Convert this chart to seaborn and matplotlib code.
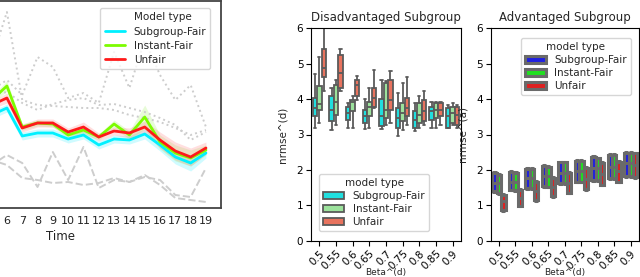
import numpy as np
import pandas as pd
import matplotlib
matplotlib.use("Agg")
import matplotlib.pyplot as plt
from matplotlib.lines import Line2D
import seaborn as sns

sns.set_theme(style="white")
plt.rcParams['font.family'] = ['DejaVu Sans']

# ---------------- left panel data (visible part of a time series chart) ----------------
time = list(range(5, 20))
subgroup_fair = [0.93, 1.00, 0.72, 0.75, 0.75, 0.69, 0.73, 0.63, 0.69, 0.68, 0.74, 0.63, 0.51, 0.45, 0.55]
instant_fair = [1.08, 1.22, 0.81, 0.85, 0.84, 0.73, 0.78, 0.71, 0.84, 0.73, 0.91, 0.66, 0.55, 0.50, 0.58]
unfair = [1.03, 1.10, 0.80, 0.85, 0.85, 0.76, 0.81, 0.71, 0.77, 0.75, 0.81, 0.68, 0.57, 0.51, 0.60]
subgroup_fair_ci = [0.04, 0.04, 0.04, 0.04, 0.04, 0.04, 0.04, 0.04, 0.04, 0.04, 0.05, 0.06, 0.07, 0.08, 0.05]
instant_fair_ci = [0.04, 0.05, 0.03, 0.03, 0.03, 0.03, 0.04, 0.03, 0.04, 0.04, 0.12, 0.07, 0.08, 0.08, 0.05]
unfair_ci = [0.04, 0.05, 0.04, 0.04, 0.04, 0.04, 0.05, 0.04, 0.04, 0.05, 0.06, 0.08, 0.09, 0.09, 0.06]
dotted_a = [1.48, 1.96, 1.08, 1.03, 1.02, 1.01, 1.00, 1.00, 0.98, 0.93, 0.90, 0.86, 0.80, 0.73, 0.78]
dotted_b = [1.18, 1.28, 1.13, 1.51, 1.41, 1.10, 1.15, 1.05, 1.56, 1.20, 1.68, 1.33, 1.08, 1.23, 0.81]
dotted_c = [1.13, 1.16, 1.05, 0.98, 1.04, 1.08, 1.10, 1.03, 1.04, 1.00, 0.96, 0.90, 0.83, 0.68, 0.76]
dashed_a = [0.43, 0.53, 0.45, 0.21, 0.56, 0.28, 0.61, 0.20, 0.28, 0.26, 0.31, 0.28, 0.13, 0.11, 0.40]
dashed_b = [0.48, 0.43, 0.30, 0.28, 0.25, 0.26, 0.23, 0.25, 0.30, 0.26, 0.33, 0.23, 0.10, 0.08, 0.06]
time_ticks = list(range(6, 20))

# ---------------- boxplot data: [min, q1, median, q3, max] per beta ----------------
betas = ["0.5", "0.55", "0.6", "0.65", "0.7", "0.75", "0.8", "0.85", "0.9"]
models = ["Subgroup-Fair", "Instant-Fair", "Unfair"]

dis_subgroup_fair = [[3.18, 3.51, 3.75, 4.03, 4.71], [3.14, 3.37, 3.70, 4.08, 4.31], [3.18, 3.42, 3.61, 3.77, 3.89],
                     [3.15, 3.32, 3.51, 3.70, 4.00], [3.15, 3.25, 3.51, 4.00, 4.54], [2.95, 3.18, 3.46, 3.75, 4.17],
                     [3.09, 3.18, 3.42, 3.65, 3.89], [3.18, 3.42, 3.65, 3.77, 3.93], [3.18, 3.18, 3.51, 3.75, 3.84]]
dis_instant_fair = [[3.32, 3.70, 3.87, 4.38, 5.18], [3.28, 3.56, 3.93, 4.40, 4.54], [3.18, 3.65, 3.93, 3.98, 4.08],
                    [3.18, 3.51, 3.79, 3.93, 4.31], [3.28, 3.46, 3.70, 4.45, 4.50], [3.14, 3.37, 3.61, 3.89, 4.45],
                    [3.18, 3.32, 3.56, 3.89, 4.08], [3.18, 3.46, 3.70, 3.89, 3.93], [3.28, 3.32, 3.61, 3.79, 3.89]]
dis_unfair = [[4.24, 4.62, 4.87, 5.41, 6.00], [4.22, 4.31, 4.73, 5.25, 5.41], [3.98, 4.08, 4.40, 4.54, 4.66],
              [3.75, 3.79, 4.03, 4.31, 4.83], [3.32, 3.70, 3.98, 4.54, 4.78], [3.28, 3.51, 3.75, 4.03, 4.62],
              [3.28, 3.37, 3.65, 3.98, 4.22], [3.28, 3.51, 3.70, 3.89, 3.93], [3.18, 3.28, 3.56, 3.79, 3.84]]

adv_subgroup_fair = [[1.37, 1.39, 1.64, 1.91, 1.93], [1.42, 1.44, 1.67, 1.95, 1.97], [1.46, 1.48, 1.77, 2.02, 2.04],
                     [1.53, 1.55, 1.83, 2.11, 2.13], [1.60, 1.62, 1.91, 2.21, 2.23], [1.65, 1.67, 1.98, 2.26, 2.28],
                     [1.70, 1.72, 2.05, 2.36, 2.38], [1.75, 1.77, 2.09, 2.42, 2.44], [1.81, 1.83, 2.19, 2.49, 2.51]]
adv_instant_fair = [[1.32, 1.34, 1.62, 1.86, 1.88], [1.40, 1.42, 1.67, 1.92, 1.94], [1.46, 1.48, 1.77, 2.02, 2.04],
                    [1.51, 1.53, 1.83, 2.09, 2.11], [1.60, 1.62, 1.91, 2.21, 2.23], [1.65, 1.67, 1.98, 2.26, 2.28],
                    [1.70, 1.72, 2.05, 2.33, 2.35], [1.75, 1.77, 2.09, 2.42, 2.44], [1.81, 1.83, 2.19, 2.49, 2.51]]
adv_unfair = [[0.85, 0.87, 1.11, 1.30, 1.32], [0.97, 0.99, 1.20, 1.44, 1.46], [1.13, 1.15, 1.39, 1.67, 1.69],
              [1.23, 1.25, 1.53, 1.77, 1.79], [1.34, 1.36, 1.64, 1.91, 1.93], [1.44, 1.46, 1.74, 2.05, 2.07],
              [1.56, 1.58, 1.89, 2.19, 2.21], [1.65, 1.67, 1.97, 2.23, 2.25], [1.77, 1.79, 2.14, 2.47, 2.49]]


def long_box(series_list):
    rows = []
    for model, series in zip(models, series_list):
        for beta, vals in zip(betas, series):
            for v in vals:
                rows.append({"beta": beta, "model": model, "value": v})
    return pd.DataFrame(rows)


W, H = 640, 277
fig = plt.figure(figsize=(W / 100, H / 100), dpi=100)

def frac(x0, x1, ytop, ybot):
    return [x0 / W, (H - ybot) / H, (x1 - x0) / W, (ybot - ytop) / H]

# ================= left panel =================
axL = fig.add_axes(frac(-99.5, 220.5, 1, 208))
line_df = pd.DataFrame({
    "Time": time * 3,
    "value": subgroup_fair + instant_fair + unfair,
    "Model type": [models[0]] * len(time) + [models[1]] * len(time) + [models[2]] * len(time),
})
gray_sets = [(dotted_a, ":"), (dotted_b, ":"), (dotted_c, ":"), (dashed_a, "--"), (dashed_b, "--")]
for vals, ls in gray_sets:
    sns.lineplot(x=time, y=vals, ax=axL, color="#cdcdcd", linestyle=ls, linewidth=1.4, legend=False)

line_colors = ["#00f0ff", "#7cfc00", "#ff1a1a"]
band_colors = ["#40f0ff", "#a0f060", "#ff8080"]
for vals, ci, bc in zip([subgroup_fair, instant_fair, unfair],
                        [subgroup_fair_ci, instant_fair_ci, unfair_ci], band_colors):
    v = np.array(vals)
    c = np.array(ci)
    axL.fill_between(time, v - c, v + c, color=bc, alpha=0.25, linewidth=0)
sns.lineplot(data=line_df, x="Time", y="value", hue="Model type", hue_order=models,
             palette=line_colors, linewidth=2.0, ax=axL, legend=False)
axL.set_xlim(-0.95, 19.95)
axL.set_ylim(0, 2.07)
axL.set_xticks(time_ticks)
axL.set_xticklabels([str(t) for t in time_ticks], fontsize=8, color="#222")
axL.set_yticks([])
axL.set_ylabel("")
axL.set_xlabel("Time", fontsize=8.5, color="#222", labelpad=3)
axL.tick_params(axis="x", length=0, pad=6)
for s in axL.spines.values():
    s.set_color("#444")
    s.set_linewidth(1.3)
handles = [Line2D([], [], color="none")] + [Line2D([], [], color=c, linewidth=2) for c in line_colors]
labels = ["Model type"] + models
legL = axL.legend(handles, labels, loc="upper right", fontsize=7.5, frameon=True,
                  handlelength=2.0, borderpad=0.4, labelspacing=0.4, bbox_to_anchor=(0.985, 0.99))
legL.get_frame().set_edgecolor("#cccccc")

# ================= boxplot panels =================
def style_box_axes(ax, title, ylabel):
    ax.set_facecolor("white")
    for s in ax.spines.values():
        s.set_color("black")
        s.set_linewidth(0.8)
    ax.set_ylim(0, 6)
    ax.set_yticks(range(0, 7))
    ax.tick_params(axis="both", which="both", direction="out", length=3.5, width=0.8,
                   colors="black", labelsize=7.5, left=True, bottom=True, pad=2)
    ax.set_xticks(range(len(betas)))
    ax.set_xticklabels(betas, rotation=45, ha="right", rotation_mode="anchor", fontsize=7.5)
    ax.set_title(title, fontsize=8.5, pad=5)
    ax.set_ylabel(ylabel, fontsize=7.5)
    ax.set_xlabel("Beta^(d)", fontsize=6.5, va="top")
    ax.xaxis.set_label_coords(0.5, -0.129)

axD = fig.add_axes(frac(311, 461, 28.3, 240.7))
sns.boxplot(data=long_box([dis_subgroup_fair, dis_instant_fair, dis_unfair]), x="beta", y="value",
            hue="model", order=betas, hue_order=models, palette=["cyan", "lightgreen", "tomato"],
            whis=(0, 100), width=0.8, linewidth=1.3, linecolor="#5a5a5a", fliersize=0, ax=axD)
style_box_axes(axD, "Disadvantaged Subgroup", "nrmse^(d)")
axD.yaxis.set_label_coords(-0.155, 0.5)
sns.move_legend(axD, "lower left", title="model type", fontsize=7.5, title_fontsize=7.5,
                bbox_to_anchor=(0.02, 0.02), frameon=True, borderpad=0.4, labelspacing=0.3,
                handlelength=2.0)
axD.get_legend().get_frame().set_edgecolor("#cccccc")

axA = fig.add_axes(frac(490.7, 639, 28.3, 240.7))
sns.boxplot(data=long_box([adv_subgroup_fair, adv_instant_fair, adv_unfair]), x="beta", y="value",
            hue="model", order=betas, hue_order=models, palette=["blue", "lime", "red"],
            whis=(0, 100), width=0.8, linewidth=2.2, linecolor="#6a6a6a", fliersize=0, ax=axA)
style_box_axes(axA, "Advantaged Subgroup", "nrmse^(a)")
axA.yaxis.set_label_coords(-0.155, 0.5)
sns.move_legend(axA, "upper right", title="model type", fontsize=7.5, title_fontsize=7.5,
                bbox_to_anchor=(0.98, 0.98), frameon=True, borderpad=0.4, labelspacing=0.3,
                handlelength=2.0)
axA.get_legend().get_frame().set_edgecolor("#cccccc")

fig.savefig("out.png", dpi=100, facecolor="white")
